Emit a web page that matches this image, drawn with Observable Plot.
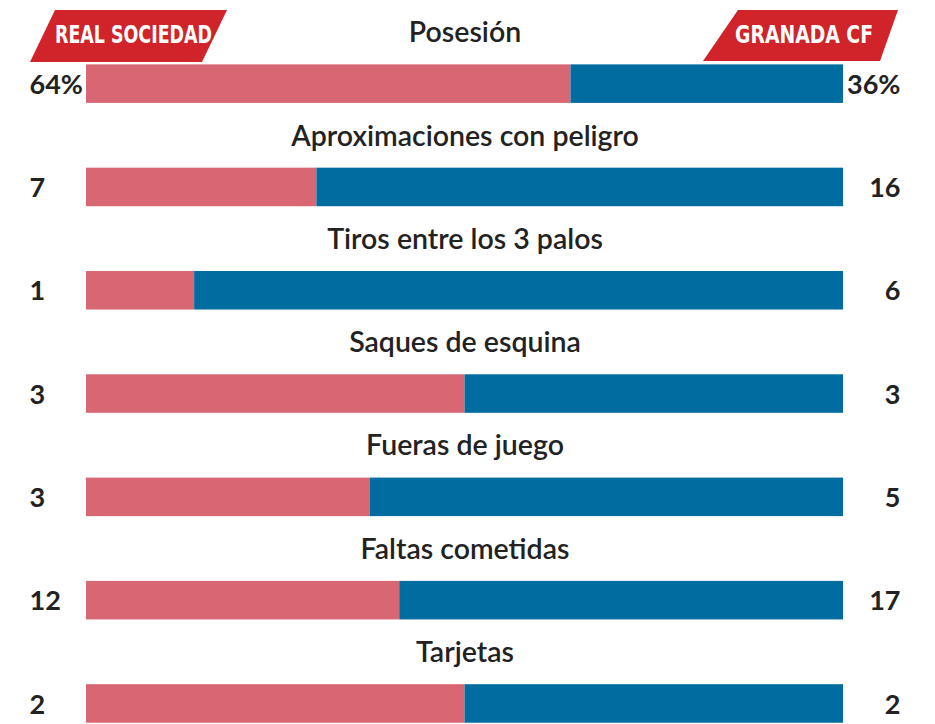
<!DOCTYPE html>
<html>
<head>
<meta charset="utf-8">
<script src="https://cdn.jsdelivr.net/npm/d3@7"></script>
<script src="https://cdn.jsdelivr.net/npm/@observablehq/plot@0.6"></script>
<style>
  html, body { margin: 0; padding: 0; background: #fff; }
  #chart svg { display: block; }
</style>
</head>
<body>
<div id="chart"></div>
<script>
const stats = ["Posesión", "Aproximaciones con peligro", "Tiros entre los 3 palos", "Saques de esquina", "Fueras de juego", "Faltas cometidas", "Tarjetas"];
const homeValues = [64, 7, 1, 3, 3, 12, 2];
const awayValues = [36, 16, 6, 3, 5, 17, 2];
const units = ["%", "", "", "", "", "", ""];
const homeTeam = "REAL SOCIEDAD";
const awayTeam = "GRANADA CF";

const rows = stats.map((s, i) => ({
  stat: s,
  home: homeValues[i],
  away: awayValues[i],
  share: homeValues[i] / (homeValues[i] + awayValues[i]),
  homeLabel: homeValues[i] + units[i],
  awayLabel: awayValues[i] + units[i]
}));

const homeColor = "#d96773";
const awayColor = "#006ca0";
const font = "Lato, 'Open Sans', sans-serif";

const chart = Plot.plot({
  width: 935,
  height: 724,
  marginLeft: 86,
  marginRight: 92,
  marginTop: 0,
  marginBottom: 0,
  style: { background: "#fff", overflow: "hidden" },
  x: { domain: [0, 1], axis: null },
  y: { domain: stats, range: [-0.4, 787.5], padding: 0.627, round: false, axis: null },
  marks: [
    Plot.barX(rows, { x1: 0, x2: "share", y: "stat", fill: homeColor }),
    Plot.barX(rows, { x1: "share", x2: 1, y: "stat", fill: awayColor }),
    Plot.text(rows, { x: 0.5, y: "stat", text: "stat", dy: -51, fontSize: 28.5, fontWeight: 600, fontFamily: font, fill: "#222" }),
    Plot.text(rows, { x: 0, y: "stat", text: "homeLabel", dx: -57, dy: 1, textAnchor: "start", fontSize: 27, fontWeight: 700, fontFamily: font, fill: "#222" }),
    Plot.text(rows, { x: 1, y: "stat", text: "awayLabel", dx: 57, dy: 1, textAnchor: "end", fontSize: 27, fontWeight: 700, fontFamily: font, fill: "#222" })
  ]
});

// Team badges (decoration)
const svg = d3.select(chart);
const badges = [
  { name: homeTeam, pts: [[55, 10], [227, 10], [202, 62], [30, 62]], cx: 133.5, len: 157 },
  { name: awayTeam, pts: [[738, 10], [898, 10], [880, 61], [703, 61]], cx: 804, len: 138 }
];
const g = svg.append("g");
for (const b of badges) {
  g.append("polygon").attr("points", b.pts.map(p => p.join(",")).join(" ")).attr("fill", "#d0232a");
  g.append("text").attr("x", b.cx).attr("y", 43).attr("text-anchor", "middle")
    .attr("fill", "#fff").attr("font-family", "'DejaVu Sans Condensed', 'Liberation Sans Narrow', sans-serif")
    .attr("font-weight", 700).attr("font-size", 24)
    .attr("textLength", b.len).attr("lengthAdjust", "spacingAndGlyphs").text(b.name);
}

document.getElementById("chart").appendChild(chart);
</script>
</body>
</html>
